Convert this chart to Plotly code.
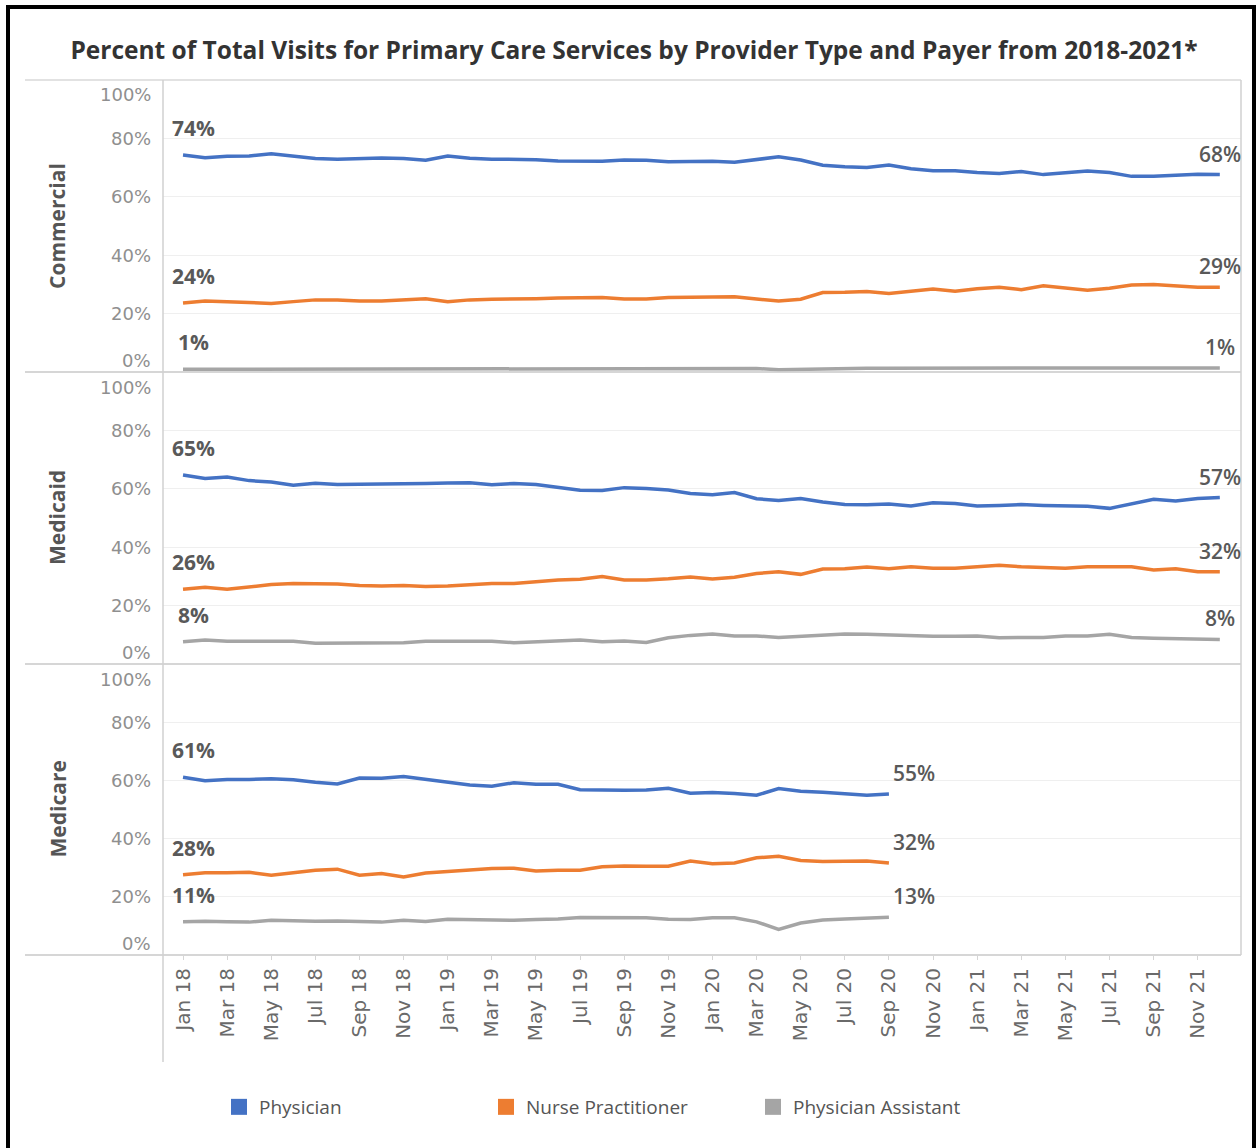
import plotly.graph_objects as go

W, H = 1259, 1148

# ---------------- data ----------------
MONTH_NAMES = ["Jan", "Feb", "Mar", "Apr", "May", "Jun", "Jul", "Aug", "Sep", "Oct", "Nov", "Dec"]
YEARS = ["18", "19", "20", "21"]
MONTHS = [f"{m} {y}" for y in YEARS for m in MONTH_NAMES]
TICK_LABELS = MONTHS[::2]

PAYERS = ["Commercial", "Medicaid", "Medicare"]
PROVIDERS = ["Physician", "Nurse Practitioner", "Physician Assistant"]
COLORS = ["#4472C4", "#ED7D31", "#A5A5A5"]

COM_PHYS = [74.3, 73.4, 73.9, 74.0, 74.7, 74.0, 73.1, 72.9, 73.1, 73.3, 73.1, 72.5,
            74.0, 73.2, 72.9, 72.9, 72.7, 72.3, 72.2, 72.2, 72.6, 72.5, 72.0, 72.2,
            72.2, 71.8, 72.8, 73.7, 72.6, 70.8, 70.3, 70.0, 70.9, 69.6, 68.9, 68.9,
            68.3, 68.0, 68.7, 67.6, 68.2, 68.8, 68.3, 67.0, 67.0, 67.4, 67.7, 67.6]
COM_NP = [23.6, 24.3, 24.1, 23.9, 23.5, 24.1, 24.7, 24.7, 24.3, 24.3, 24.7, 25.1,
          24.1, 24.7, 24.9, 24.9, 25.1, 25.3, 25.5, 25.5, 25.0, 25.0, 25.5, 25.6,
          25.6, 25.8, 25.0, 24.3, 24.9, 27.2, 27.3, 27.6, 26.9, 27.8, 28.4, 27.7,
          28.5, 29.0, 28.2, 29.5, 28.7, 28.0, 28.7, 29.8, 30.0, 29.5, 29.0, 29.0]
COM_PA = [0.9, 0.9, 0.9, 0.9, 0.9, 0.9, 0.9, 0.9, 1.0, 1.0, 1.0, 1.0,
          1.1, 1.1, 1.1, 1.1, 1.1, 1.2, 1.2, 1.2, 1.2, 1.2, 1.2, 1.2,
          1.2, 1.2, 1.2, 0.8, 1.0, 1.2, 1.3, 1.3, 1.3, 1.3, 1.3, 1.4,
          1.5, 1.5, 1.5, 1.5, 1.5, 1.5, 1.4, 1.4, 1.4, 1.4, 1.4, 1.4]

MCD_PHYS = [64.7, 63.5, 64.0, 62.8, 62.3, 61.2, 61.9, 61.5, 61.6, 61.6, 61.8, 61.8,
            62.0, 62.1, 61.4, 61.8, 61.5, 60.6, 59.5, 59.4, 60.4, 60.1, 59.6, 58.4,
            58.0, 58.7, 56.6, 56.0, 56.7, 55.5, 54.6, 54.5, 54.8, 54.1, 55.2, 55.0,
            54.1, 54.3, 54.6, 54.3, 54.2, 54.0, 53.3, 55.0, 56.4, 55.8, 56.7, 57.0]
MCD_NP = [25.6, 26.3, 25.6, 26.5, 27.2, 27.6, 27.4, 27.4, 26.9, 26.7, 26.9, 26.5,
          26.7, 27.2, 27.6, 27.6, 28.1, 28.8, 29.0, 30.0, 28.8, 28.8, 29.2, 29.8,
          29.1, 29.7, 31.0, 31.6, 30.7, 32.5, 32.6, 33.2, 32.6, 33.3, 32.8, 32.8,
          33.3, 33.8, 33.3, 33.2, 32.8, 33.3, 33.4, 33.3, 32.2, 32.6, 31.6, 31.6]
MCD_PA = [7.6, 8.2, 7.8, 7.8, 7.6, 7.8, 7.1, 7.2, 7.4, 7.4, 7.3, 7.8,
          7.8, 7.8, 7.8, 7.3, 7.6, 7.8, 8.2, 7.6, 7.9, 7.4, 9.0, 9.8,
          10.3, 9.6, 9.6, 9.1, 9.6, 9.8, 10.3, 10.2, 9.9, 9.7, 9.5, 9.5,
          9.6, 9.0, 9.0, 9.1, 9.6, 9.6, 10.2, 9.1, 8.8, 8.7, 8.7, 8.4]

MCR_PHYS = [61.1, 59.9, 60.3, 60.3, 60.6, 60.2, 59.4, 58.8, 60.8, 60.7, 61.3, 60.3,
            59.1, 58.4, 58.0, 59.2, 58.7, 58.7, 56.8, 56.6, 56.6, 56.7, 57.3, 55.6,
            55.8, 55.5, 54.9, 57.2, 56.3, 55.9, 55.5, 54.9, 55.3]
MCR_NP = [27.6, 28.3, 28.3, 28.4, 27.4, 28.2, 29.1, 29.5, 27.4, 28.0, 26.8, 28.2,
          28.6, 29.1, 29.7, 29.8, 28.9, 29.1, 29.1, 30.3, 30.6, 30.5, 30.5, 32.3,
          31.4, 31.6, 33.4, 33.9, 32.5, 32.1, 32.1, 32.3, 31.6]
MCR_PA = [11.4, 11.6, 11.4, 11.3, 11.9, 11.6, 11.6, 11.7, 11.6, 11.3, 11.9, 11.5,
          12.3, 12.2, 12.2, 11.9, 12.2, 12.4, 12.9, 12.8, 13.0, 12.8, 12.3, 12.2,
          12.8, 12.8, 11.4, 8.8, 11.0, 12.0, 12.4, 12.7, 13.0]

SERIES = {
    "Commercial": [COM_PHYS, COM_NP, COM_PA],
    "Medicaid": [MCD_PHYS, MCD_NP, MCD_PA],
    "Medicare": [MCR_PHYS, MCR_NP, MCR_PA],
}
Y_TICKS = [0, 20, 40, 60, 80, 100]

# ---------------- layout helpers ----------------
def px(x):
    return x / W

def py(y):
    return 1 - y / H

PLOT_L, PLOT_R = 163, 1241
PANEL_EDGES = [(80, 372), (372, 664), (664, 955)]
YREFS = ["y", "y2", "y3"]
YAXES = ["yaxis", "yaxis2", "yaxis3"]

TICK_FONT = "DejaVu Sans"
TEXT_FONT = "Open Sans"
LABEL_COLOR = "#595959"

fig = go.Figure()

for p, payer in enumerate(PAYERS):
    for k, prov in enumerate(PROVIDERS):
        vals = SERIES[payer][k]
        fig.add_trace(go.Scatter(
            x=MONTHS[:len(vals)], y=vals, mode="lines",
            line=dict(color=COLORS[k], width=3.5),
            xaxis="x", yaxis=YREFS[p], showlegend=False,
            name=prov, hovertemplate="%{x}: %{y:.1f}%<extra>" + payer + "</extra>",
        ))

# legend entries (square swatches)
for k, prov in enumerate(PROVIDERS):
    fig.add_trace(go.Scatter(
        x=[None], y=[None], mode="markers", name=prov,
        marker=dict(symbol="square", size=16, color=COLORS[k]),
        xaxis="x", yaxis="y3", showlegend=True,
    ))

annotations = []
shapes = []

for p, payer in enumerate(PAYERS):
    top, bot = PANEL_EDGES[p]
    yr = YREFS[p]
    # y tick labels
    for v in Y_TICKS:
        shift = 0
        if v == 0:
            shift = 12
        elif v == 100:
            shift = -15
        annotations.append(dict(
            x=px(153), xref="paper", y=v, yref=yr, text=f"{v}%",
            xanchor="right", yanchor="middle", yshift=shift, showarrow=False,
            font=dict(family=TICK_FONT, size=18, color="#8f8f8f"),
        ))
    # row header
    annotations.append(dict(
        x=px(57), xref="paper", y=py((top + bot) / 2), yref="paper",
        text=payer, textangle=-90, showarrow=False,
        xanchor="center", yanchor="middle",
        font=dict(family=TEXT_FONT, size=21, color="#555555", weight="bold"),
    ))
    # start / end value labels
    for k in range(3):
        vals = SERIES[payer][k]
        annotations.append(dict(
            x=MONTHS[0], xref="x", y=vals[0], yref=yr,
            text=f"{round(vals[0]):d}%", showarrow=False,
            xanchor="center", yanchor="bottom", xshift=10, yshift=11,
            font=dict(family=TEXT_FONT, size=21, color=LABEL_COLOR, weight="bold"),
        ))
        last = len(vals) - 1
        if len(vals) == len(MONTHS):
            ex = dict(xanchor="center", xshift=0)
        else:
            ex = dict(xanchor="left", xshift=2)
        annotations.append(dict(
            x=MONTHS[last], xref="x", y=vals[last], yref=yr,
            text=f"{round(vals[last]):d}%", showarrow=False,
            yanchor="bottom", yshift=5,
            font=dict(family=TEXT_FONT, size=21, color=LABEL_COLOR, weight=600),
            **ex,
        ))
    # panel bottom separator
    shapes.append(dict(type="line", xref="paper", yref="paper",
                       x0=px(25), x1=px(PLOT_R), y0=py(bot), y1=py(bot),
                       line=dict(color="#c9c9c9", width=1.5)))

# header line
shapes.append(dict(type="line", xref="paper", yref="paper",
                   x0=px(25), x1=px(PLOT_R), y0=py(80), y1=py(80),
                   line=dict(color="#d9d9d9", width=1.5)))
# left vertical line
shapes.append(dict(type="line", xref="paper", yref="paper",
                   x0=px(PLOT_L), x1=px(PLOT_L), y0=py(80), y1=py(1062),
                   line=dict(color="#d0d0d0", width=1.5)))
# right vertical line
shapes.append(dict(type="line", xref="paper", yref="paper",
                   x0=px(PLOT_R), x1=px(PLOT_R), y0=py(80), y1=py(955),
                   line=dict(color="#d0d0d0", width=1.5)))
# outer black frame
shapes.append(dict(type="rect", xref="paper", yref="paper",
                   x0=px(8), x1=px(1254), y0=py(7), y1=py(1170),
                   line=dict(color="#000000", width=4)))

layout = dict(
    width=W, height=H,
    margin=dict(l=0, r=0, t=0, b=0),
    paper_bgcolor="white", plot_bgcolor="white",
    title=dict(
        text="Percent of Total Visits for Primary Care Services by Provider Type and Payer from 2018-2021*",
        x=px(634), xanchor="center", y=py(50), yanchor="middle",
        font=dict(family=TEXT_FONT, size=24.5, color="#333333", weight="bold"),
    ),
    xaxis=dict(
        domain=[px(PLOT_L), px(PLOT_R)], anchor="y3",
        type="category", categoryorder="array", categoryarray=MONTHS,
        range=[-0.907, 47.96],
        tickmode="array", tickvals=TICK_LABELS, ticktext=TICK_LABELS,
        tickangle=-90, tickfont=dict(family=TICK_FONT, size=20, color="#6a6a6a"),
        ticks="outside", ticklen=4, tickcolor="#d5d5d5",
        showgrid=False, showline=False, zeroline=False,
    ),
    legend=dict(
        orientation="h", x=px(219), xanchor="left", y=py(1107), yanchor="middle",
        entrywidth=222, entrywidthmode="pixels",
        font=dict(family=TEXT_FONT, size=19, color="#555555"),
        bgcolor="rgba(0,0,0,0)", itemclick=False, itemdoubleclick=False,
    ),
    annotations=annotations,
    shapes=shapes,
    hovermode="closest",
)

for p in range(3):
    top, bot = PANEL_EDGES[p]
    layout[YAXES[p]] = dict(
        domain=[py(bot), py(top)], anchor="x", range=[0, 100],
        tickmode="array", tickvals=Y_TICKS, showticklabels=False,
        showgrid=True, gridcolor="#efefef", gridwidth=1,
        zeroline=False, showline=False, fixedrange=True,
    )

fig.update_layout(**layout)
fig.write_html("out.html")
